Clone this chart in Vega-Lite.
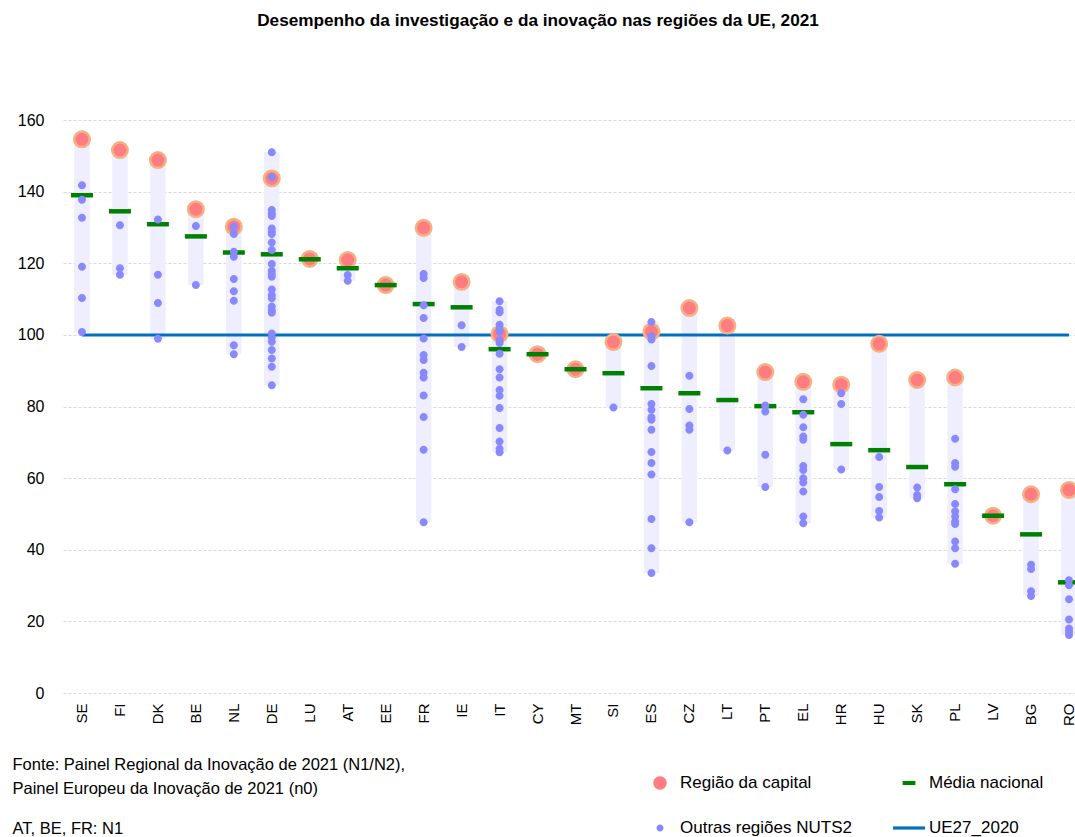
{
  "$schema": "https://vega.github.io/schema/vega-lite/v6.json",
  "width": 1012,
  "height": 573,
  "autosize": {"type": "none"},
  "padding": {"left": 63, "top": 120, "right": 0, "bottom": 144},
  "title": {
    "text": "Desempenho da investigação e da inovação nas regiões da UE, 2021",
    "anchor": "middle",
    "dx": -31,
    "offset": 83,
    "fontSize": 17.2,
    "fontWeight": "bold",
    "font": "Liberation Sans",
    "color": "#000000"
  },
  "datasets": {
    "regions": [
      {"c": "SE", "v": 154.6, "t": "capital"}, {"c": "SE", "v": 141.8, "t": "other"}, {"c": "SE", "v": 137.7, "t": "other"}, {"c": "SE", "v": 132.7, "t": "other"}, {"c": "SE", "v": 119.0, "t": "other"}, {"c": "SE", "v": 110.3, "t": "other"}, {"c": "SE", "v": 100.8, "t": "other"},
      {"c": "FI", "v": 151.6, "t": "capital"}, {"c": "FI", "v": 130.6, "t": "other"}, {"c": "FI", "v": 118.6, "t": "other"}, {"c": "FI", "v": 116.8, "t": "other"},
      {"c": "DK", "v": 148.8, "t": "capital"}, {"c": "DK", "v": 132.2, "t": "other"}, {"c": "DK", "v": 116.8, "t": "other"}, {"c": "DK", "v": 108.9, "t": "other"}, {"c": "DK", "v": 98.9, "t": "other"},
      {"c": "BE", "v": 135.1, "t": "capital"}, {"c": "BE", "v": 130.4, "t": "other"}, {"c": "BE", "v": 113.9, "t": "other"},
      {"c": "NL", "v": 130.2, "t": "capital"}, {"c": "NL", "v": 130.2, "t": "other"}, {"c": "NL", "v": 128.2, "t": "other"}, {"c": "NL", "v": 123.2, "t": "other"}, {"c": "NL", "v": 121.8, "t": "other"}, {"c": "NL", "v": 115.6, "t": "other"}, {"c": "NL", "v": 112.2, "t": "other"}, {"c": "NL", "v": 109.5, "t": "other"}, {"c": "NL", "v": 97.1, "t": "other"}, {"c": "NL", "v": 94.6, "t": "other"},
      {"c": "DE", "v": 143.7, "t": "capital"}, {"c": "DE", "v": 151.0, "t": "other"}, {"c": "DE", "v": 144.0, "t": "other"}, {"c": "DE", "v": 134.9, "t": "other"}, {"c": "DE", "v": 133.9, "t": "other"}, {"c": "DE", "v": 133.2, "t": "other"}, {"c": "DE", "v": 129.7, "t": "other"}, {"c": "DE", "v": 128.8, "t": "other"}, {"c": "DE", "v": 128.2, "t": "other"}, {"c": "DE", "v": 125.8, "t": "other"}, {"c": "DE", "v": 123.7, "t": "other"}, {"c": "DE", "v": 119.8, "t": "other"}, {"c": "DE", "v": 117.9, "t": "other"}, {"c": "DE", "v": 117.0, "t": "other"}, {"c": "DE", "v": 116.2, "t": "other"}, {"c": "DE", "v": 112.7, "t": "other"}, {"c": "DE", "v": 111.1, "t": "other"}, {"c": "DE", "v": 110.2, "t": "other"}, {"c": "DE", "v": 107.9, "t": "other"}, {"c": "DE", "v": 106.9, "t": "other"}, {"c": "DE", "v": 106.2, "t": "other"}, {"c": "DE", "v": 100.4, "t": "other"}, {"c": "DE", "v": 99.3, "t": "other"}, {"c": "DE", "v": 98.1, "t": "other"}, {"c": "DE", "v": 95.8, "t": "other"}, {"c": "DE", "v": 93.4, "t": "other"}, {"c": "DE", "v": 91.1, "t": "other"}, {"c": "DE", "v": 85.9, "t": "other"},
      {"c": "LU", "v": 121.2, "t": "capital"},
      {"c": "AT", "v": 120.9, "t": "capital"}, {"c": "AT", "v": 116.7, "t": "other"}, {"c": "AT", "v": 115.1, "t": "other"},
      {"c": "EE", "v": 113.9, "t": "capital"},
      {"c": "FR", "v": 129.9, "t": "capital"}, {"c": "FR", "v": 117.0, "t": "other"}, {"c": "FR", "v": 115.9, "t": "other"}, {"c": "FR", "v": 108.3, "t": "other"}, {"c": "FR", "v": 104.7, "t": "other"}, {"c": "FR", "v": 99.0, "t": "other"}, {"c": "FR", "v": 94.4, "t": "other"}, {"c": "FR", "v": 93.0, "t": "other"}, {"c": "FR", "v": 89.4, "t": "other"}, {"c": "FR", "v": 88.1, "t": "other"}, {"c": "FR", "v": 83.1, "t": "other"}, {"c": "FR", "v": 77.1, "t": "other"}, {"c": "FR", "v": 67.9, "t": "other"}, {"c": "FR", "v": 47.7, "t": "other"},
      {"c": "IE", "v": 114.8, "t": "capital"}, {"c": "IE", "v": 102.7, "t": "other"}, {"c": "IE", "v": 96.6, "t": "other"},
      {"c": "IT", "v": 100.2, "t": "capital"}, {"c": "IT", "v": 109.4, "t": "other"}, {"c": "IT", "v": 107.0, "t": "other"}, {"c": "IT", "v": 106.3, "t": "other"}, {"c": "IT", "v": 102.8, "t": "other"}, {"c": "IT", "v": 101.6, "t": "other"}, {"c": "IT", "v": 100.9, "t": "other"}, {"c": "IT", "v": 98.5, "t": "other"}, {"c": "IT", "v": 97.7, "t": "other"}, {"c": "IT", "v": 94.7, "t": "other"}, {"c": "IT", "v": 90.4, "t": "other"}, {"c": "IT", "v": 88.1, "t": "other"}, {"c": "IT", "v": 84.6, "t": "other"}, {"c": "IT", "v": 83.0, "t": "other"}, {"c": "IT", "v": 79.6, "t": "other"}, {"c": "IT", "v": 74.0, "t": "other"}, {"c": "IT", "v": 70.2, "t": "other"}, {"c": "IT", "v": 68.2, "t": "other"}, {"c": "IT", "v": 67.2, "t": "other"},
      {"c": "CY", "v": 94.6, "t": "capital"},
      {"c": "MT", "v": 90.4, "t": "capital"},
      {"c": "SI", "v": 98.0, "t": "capital"}, {"c": "SI", "v": 79.7, "t": "other"},
      {"c": "ES", "v": 100.9, "t": "capital"}, {"c": "ES", "v": 103.6, "t": "other"}, {"c": "ES", "v": 99.6, "t": "other"}, {"c": "ES", "v": 98.7, "t": "other"}, {"c": "ES", "v": 91.3, "t": "other"}, {"c": "ES", "v": 80.7, "t": "other"}, {"c": "ES", "v": 79.1, "t": "other"}, {"c": "ES", "v": 77.0, "t": "other"}, {"c": "ES", "v": 76.3, "t": "other"}, {"c": "ES", "v": 73.5, "t": "other"}, {"c": "ES", "v": 67.3, "t": "other"}, {"c": "ES", "v": 64.2, "t": "other"}, {"c": "ES", "v": 61.0, "t": "other"}, {"c": "ES", "v": 48.6, "t": "other"}, {"c": "ES", "v": 40.4, "t": "other"}, {"c": "ES", "v": 33.5, "t": "other"},
      {"c": "CZ", "v": 107.5, "t": "capital"}, {"c": "CZ", "v": 88.6, "t": "other"}, {"c": "CZ", "v": 79.3, "t": "other"}, {"c": "CZ", "v": 74.7, "t": "other"}, {"c": "CZ", "v": 73.5, "t": "other"}, {"c": "CZ", "v": 47.7, "t": "other"},
      {"c": "LT", "v": 102.6, "t": "capital"}, {"c": "LT", "v": 67.7, "t": "other"},
      {"c": "PT", "v": 89.6, "t": "capital"}, {"c": "PT", "v": 80.3, "t": "other"}, {"c": "PT", "v": 78.6, "t": "other"}, {"c": "PT", "v": 66.5, "t": "other"}, {"c": "PT", "v": 57.5, "t": "other"},
      {"c": "EL", "v": 86.9, "t": "capital"}, {"c": "EL", "v": 82.0, "t": "other"}, {"c": "EL", "v": 77.7, "t": "other"}, {"c": "EL", "v": 74.2, "t": "other"}, {"c": "EL", "v": 71.6, "t": "other"}, {"c": "EL", "v": 70.7, "t": "other"}, {"c": "EL", "v": 63.4, "t": "other"}, {"c": "EL", "v": 62.3, "t": "other"}, {"c": "EL", "v": 60.0, "t": "other"}, {"c": "EL", "v": 58.8, "t": "other"}, {"c": "EL", "v": 56.3, "t": "other"}, {"c": "EL", "v": 49.3, "t": "other"}, {"c": "EL", "v": 47.4, "t": "other"},
      {"c": "HR", "v": 86.1, "t": "capital"}, {"c": "HR", "v": 83.7, "t": "other"}, {"c": "HR", "v": 80.7, "t": "other"}, {"c": "HR", "v": 62.4, "t": "other"},
      {"c": "HU", "v": 97.5, "t": "capital"}, {"c": "HU", "v": 65.9, "t": "other"}, {"c": "HU", "v": 57.5, "t": "other"}, {"c": "HU", "v": 54.7, "t": "other"}, {"c": "HU", "v": 50.8, "t": "other"}, {"c": "HU", "v": 49.0, "t": "other"},
      {"c": "SK", "v": 87.4, "t": "capital"}, {"c": "SK", "v": 57.4, "t": "other"}, {"c": "SK", "v": 55.3, "t": "other"}, {"c": "SK", "v": 54.4, "t": "other"},
      {"c": "PL", "v": 88.1, "t": "capital"}, {"c": "PL", "v": 71.0, "t": "other"}, {"c": "PL", "v": 64.2, "t": "other"}, {"c": "PL", "v": 63.2, "t": "other"}, {"c": "PL", "v": 56.9, "t": "other"}, {"c": "PL", "v": 52.8, "t": "other"}, {"c": "PL", "v": 50.7, "t": "other"}, {"c": "PL", "v": 49.3, "t": "other"}, {"c": "PL", "v": 47.9, "t": "other"}, {"c": "PL", "v": 47.2, "t": "other"}, {"c": "PL", "v": 42.3, "t": "other"}, {"c": "PL", "v": 40.4, "t": "other"}, {"c": "PL", "v": 36.1, "t": "other"},
      {"c": "LV", "v": 49.5, "t": "capital"},
      {"c": "BG", "v": 55.5, "t": "capital"}, {"c": "BG", "v": 35.8, "t": "other"}, {"c": "BG", "v": 34.6, "t": "other"}, {"c": "BG", "v": 28.4, "t": "other"}, {"c": "BG", "v": 27.1, "t": "other"},
      {"c": "RO", "v": 56.7, "t": "capital"}, {"c": "RO", "v": 31.5, "t": "other"}, {"c": "RO", "v": 30.1, "t": "other"}, {"c": "RO", "v": 26.2, "t": "other"}, {"c": "RO", "v": 20.5, "t": "other"}, {"c": "RO", "v": 18.0, "t": "other"}, {"c": "RO", "v": 17.1, "t": "other"}, {"c": "RO", "v": 16.2, "t": "other"}
    ],
    "avg": [
      {"c": "SE", "v": 139.0}, {"c": "FI", "v": 134.5}, {"c": "DK", "v": 130.9}, {"c": "BE", "v": 127.5}, {"c": "NL", "v": 123.0}, {"c": "DE", "v": 122.5}, {"c": "LU", "v": 121.1}, {"c": "AT", "v": 118.6}, {"c": "EE", "v": 113.9}, {"c": "FR", "v": 108.6}, {"c": "IE", "v": 107.7}, {"c": "IT", "v": 96.0}, {"c": "CY", "v": 94.6}, {"c": "MT", "v": 90.4}, {"c": "SI", "v": 89.3}, {"c": "ES", "v": 85.1}, {"c": "CZ", "v": 83.7}, {"c": "LT", "v": 81.8}, {"c": "PT", "v": 80.1}, {"c": "EL", "v": 78.4}, {"c": "HR", "v": 69.5}, {"c": "HU", "v": 67.8}, {"c": "SK", "v": 63.1}, {"c": "PL", "v": 58.3}, {"c": "LV", "v": 49.5}, {"c": "BG", "v": 44.3}, {"c": "RO", "v": 30.9}
    ],
    "eu": [
      {"c": "SE", "v": 100}, {"c": "FI", "v": 100}, {"c": "DK", "v": 100}, {"c": "BE", "v": 100}, {"c": "NL", "v": 100}, {"c": "DE", "v": 100}, {"c": "LU", "v": 100}, {"c": "AT", "v": 100}, {"c": "EE", "v": 100}, {"c": "FR", "v": 100}, {"c": "IE", "v": 100}, {"c": "IT", "v": 100}, {"c": "CY", "v": 100}, {"c": "MT", "v": 100}, {"c": "SI", "v": 100}, {"c": "ES", "v": 100}, {"c": "CZ", "v": 100}, {"c": "LT", "v": 100}, {"c": "PT", "v": 100}, {"c": "EL", "v": 100}, {"c": "HR", "v": 100}, {"c": "HU", "v": 100}, {"c": "SK", "v": 100}, {"c": "PL", "v": 100}, {"c": "LV", "v": 100}, {"c": "BG", "v": 100}, {"c": "RO", "v": 100}
    ]
  },
  "encoding": {
    "x": {
      "field": "c",
      "type": "nominal",
      "scale": {
        "domain": ["SE", "FI", "DK", "BE", "NL", "DE", "LU", "AT", "EE", "FR", "IE", "IT", "CY", "MT", "SI", "ES", "CZ", "LT", "PT", "EL", "HR", "HU", "SK", "PL", "LV", "BG", "RO"],
        "range": [0, 1025],
        "paddingInner": 0,
        "paddingOuter": 0
      },
      "title": ["Fonte: Painel Regional da Inovação de 2021 (N1/N2),", "Painel Europeu da Inovação de 2021 (n0)"],
      "axis": {
        "labelAngle": -90,
        "labelFontSize": 15,
        "labelColor": "#000000",
        "labelPadding": 10,
        "labelFont": "Liberation Sans",
        "domain": false,
        "ticks": false,
        "grid": false,
        "titleX": -51,
        "titleY": 63,
        "titleAnchor": "start",
        "titleAlign": "left",
        "titleBaseline": "top",
        "titleFontWeight": "normal",
        "titleFontSize": 16.5,
        "titleLineHeight": 24,
        "titleFont": "Liberation Sans",
        "titleColor": "#000000"
      }
    },
    "y": {
      "field": "v",
      "type": "quantitative",
      "scale": {"domain": [0, 160], "nice": false, "zero": true},
      "title": "AT, BE, FR: N1",
      "axis": {
        "values": [0, 20, 40, 60, 80, 100, 120, 140, 160],
        "labelFontSize": 16,
        "labelColor": "#000000",
        "labelPadding": 19,
        "labelFont": "Liberation Sans",
        "domain": false,
        "ticks": false,
        "grid": true,
        "gridColor": "#d9d9d9",
        "gridDash": [3, 2],
        "gridWidth": 1,
        "titleAngle": 0,
        "titleX": -51,
        "titleY": 708,
        "titleAlign": "left",
        "titleBaseline": "middle",
        "titleFontWeight": "normal",
        "titleFontSize": 16.5,
        "titleFont": "Liberation Sans",
        "titleColor": "#000000"
      }
    }
  },
  "layer": [
    {
      "data": {"name": "regions"},
      "mark": {"type": "bar", "width": 15.5, "color": "#eeeeff"},
      "encoding": {
        "y": {"aggregate": "min", "field": "v", "type": "quantitative", "title": "AT, BE, FR: N1"},
        "y2": {"aggregate": "max", "field": "v"}
      }
    },
    {
      "data": {"name": "eu"},
      "mark": {"type": "line", "color": "#0070c0", "strokeWidth": 3},
      "encoding": {}
    },
    {
      "data": {"name": "regions"},
      "transform": [{"filter": "datum.t === 'capital'"}],
      "mark": {"type": "point", "filled": true, "size": 240, "fill": "#ff7c80", "stroke": "#f4b183", "strokeWidth": 2.5, "opacity": 1},
      "encoding": {}
    },
    {
      "data": {"name": "avg"},
      "mark": {"type": "tick", "color": "#008000", "size": 22, "thickness": 4.5, "opacity": 1},
      "encoding": {}
    },
    {
      "data": {"name": "regions"},
      "transform": [{"filter": "datum.t === 'other'"}],
      "mark": {"type": "point", "filled": true, "size": 1322, "opacity": 1, "strokeWidth": 0},
      "encoding": {
        "shape": {
          "datum": "Outras regiões NUTS2",
          "type": "nominal",
          "scale": {
            "domain": ["Região da capital", "Média nacional", "Outras regiões NUTS2", "UE27_2020"],
            "range": [
              "M-0.42,0A0.42,0.42 0 1,0 0.42,0A0.42,0.42 0 1,0 -0.42,0Z",
              "M-0.4,-0.13H0.4V0.13H-0.4Z",
              "M-0.22,0A0.22,0.22 0 1,0 0.22,0A0.22,0.22 0 1,0 -0.22,0Z",
              "M-1,-0.1H1V0.1H-1Z"
            ]
          },
          "legend": {
            "title": null,
            "orient": "none",
            "legendX": 581,
            "legendY": 647,
            "columns": 2,
            "direction": "horizontal",
            "columnPadding": 41,
            "rowPadding": 21,
            "padding": 0,
            "symbolSize": 1024,
            "labelOffset": 4,
            "labelFontSize": 17,
            "labelFont": "Liberation Sans",
            "labelColor": "#000000",
            "labelLimit": 300
          }
        },
        "color": {
          "datum": "Outras regiões NUTS2",
          "type": "nominal",
          "scale": {
            "domain": ["Região da capital", "Média nacional", "Outras regiões NUTS2", "UE27_2020"],
            "range": ["#ff7c80", "#008000", "#8888ff", "#0070c0"]
          },
          "legend": {
            "title": null,
            "orient": "none",
            "legendX": 581,
            "legendY": 647,
            "columns": 2,
            "direction": "horizontal",
            "columnPadding": 41,
            "rowPadding": 21,
            "padding": 0,
            "symbolSize": 1024,
            "labelOffset": 4,
            "labelFontSize": 17,
            "labelFont": "Liberation Sans",
            "labelColor": "#000000",
            "labelLimit": 300,
            "symbolStrokeWidth": 0
          }
        }
      }
    }
  ],
  "config": {
    "view": {"stroke": null},
    "font": "Liberation Sans"
  }
}
